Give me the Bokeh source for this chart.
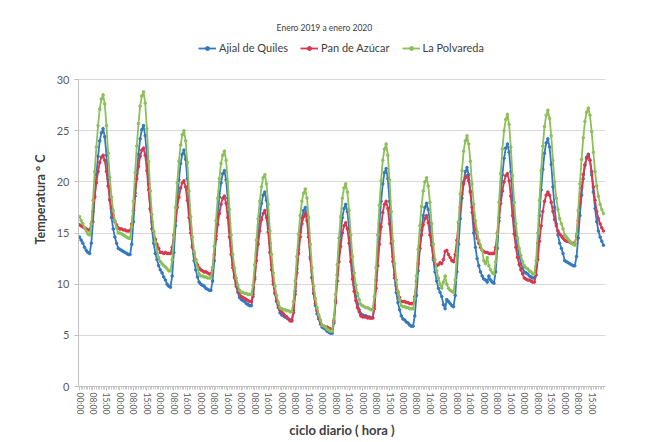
from bokeh.plotting import figure
from bokeh.models import Range1d, FixedTicker, Legend, LegendItem, Label
from bokeh.embed import file_html
from bokeh.resources import INLINE

# ---- data: one representative day (hourly 00..23) per month, Jan 2019 .. Jan 2020
ajial_days = [
    [14.6,14.3,14.0,13.6,13.3,13.1,13.0,14.0,16.1,18.5,20.7,22.5,24.0,24.8,25.2,24.4,22.6,20.3,18.2,16.5,15.4,14.6,14.0,13.5],
    [13.4,13.3,13.2,13.1,13.0,12.9,12.9,13.9,16.1,18.6,20.8,22.7,24.2,25.1,25.5,24.5,22.5,19.8,17.3,15.4,14.0,13.0,12.4,11.8],
    [11.4,11.1,10.7,10.4,10.0,9.8,9.7,10.8,13.1,15.7,18.1,20.2,21.8,22.7,23.1,22.2,20.3,17.7,15.4,13.6,12.3,11.4,10.7,10.2],
    [10.0,9.9,9.8,9.6,9.5,9.4,9.4,10.3,12.3,14.7,16.8,18.5,19.9,20.8,21.1,20.2,18.4,15.9,13.7,11.9,10.7,9.8,9.2,8.7],
    [8.5,8.4,8.3,8.1,8.0,7.9,7.9,8.8,10.7,12.9,14.9,16.6,17.9,18.7,19.0,18.2,16.4,14.0,11.9,10.3,9.1,8.3,7.7,7.2],
    [7.0,6.9,6.8,6.7,6.6,6.5,6.5,7.4,9.3,11.5,13.4,15.1,16.4,17.2,17.5,16.7,15.0,12.7,10.7,9.1,7.9,7.1,6.6,6.1],
    [5.8,5.7,5.6,5.4,5.3,5.2,5.2,6.2,8.4,10.9,13.1,15.0,16.5,17.4,17.8,17.1,15.5,13.3,11.4,9.9,8.8,8.1,7.5,7.1],
    [7.0,6.9,6.9,6.8,6.8,6.7,6.7,7.9,10.4,13.3,15.9,18.1,19.8,20.9,21.3,20.3,18.1,15.3,12.7,10.6,9.2,8.2,7.5,6.9],
    [6.6,6.5,6.3,6.2,6.0,5.9,5.9,6.9,8.9,11.3,13.5,15.3,16.7,17.5,17.9,17.3,15.9,14.1,12.4,11.2,10.3,9.6,9.2,8.8],
    [8.0,7.6,8.5,8.3,8.1,7.9,7.8,8.9,11.2,13.9,16.4,18.4,20.0,21.0,21.4,20.7,19.1,17.0,15.0,13.6,12.5,11.8,11.2,10.8],
    [10.5,10.4,10.2,10.8,10.4,10.2,10.1,11.2,13.5,16.2,18.7,20.7,22.3,23.3,23.7,22.9,21.0,18.6,16.4,14.8,13.5,12.7,12.1,11.6],
    [11.2,11.1,11.0,10.8,10.7,10.6,10.6,11.7,14.0,16.7,19.2,21.2,22.8,23.8,24.2,23.4,21.7,19.5,17.5,15.9,14.8,14.0,13.5,13.0],
    [12.3,12.2,12.1,12.0,11.9,11.8,11.8,12.7,14.5,16.7,18.7,20.3,21.6,22.4,22.7,22.1,20.7,19.0,17.4,16.1,15.2,14.6,14.2,13.8],
]
pan_days = [
    [15.8,15.7,15.6,15.5,15.4,15.3,15.3,15.9,17.1,18.6,19.9,21.0,21.9,22.4,22.6,22.1,21.0,19.6,18.3,17.4,16.6,16.1,15.8,15.5],
    [15.4,15.4,15.3,15.3,15.2,15.2,15.2,15.9,17.2,18.9,20.3,21.5,22.5,23.1,23.3,22.6,21.1,19.2,17.4,16.1,15.1,14.4,13.9,13.5],
    [13.1,13.1,13.0,13.1,13.0,13.0,13.0,13.6,14.8,16.2,17.5,18.5,19.4,19.9,20.1,19.5,18.2,16.5,15.0,13.8,13.0,12.4,11.9,11.6],
    [11.4,11.3,11.2,11.2,11.1,11.0,11.0,11.6,12.9,14.4,15.8,16.9,17.8,18.4,18.6,17.9,16.5,14.6,12.9,11.6,10.6,10.0,9.5,9.1],
    [8.8,8.7,8.6,8.5,8.4,8.3,8.3,9.0,10.5,12.3,13.9,15.2,16.3,16.9,17.2,16.5,15.1,13.1,11.4,10.0,9.1,8.4,7.9,7.5],
    [7.3,7.1,6.9,6.8,6.6,6.4,6.4,7.2,9.0,11.1,13.0,14.6,15.9,16.6,16.9,16.2,14.6,12.5,10.6,9.1,8.1,7.4,6.8,6.4],
    [6.0,5.9,5.8,5.8,5.7,5.6,5.6,6.4,8.2,10.3,12.2,13.7,15.0,15.7,16.0,15.4,14.0,12.2,10.5,9.3,8.4,7.7,7.3,6.9],
    [6.8,6.8,6.8,6.7,6.7,6.7,6.7,7.6,9.6,11.8,13.9,15.6,17.0,17.8,18.1,17.4,15.9,14.0,12.2,10.9,9.9,9.2,8.7,8.3],
    [8.3,8.3,8.2,8.2,8.1,8.1,8.1,8.8,10.3,12.0,13.5,14.8,15.8,16.4,16.7,16.0,14.8,13.8,12.6,12.0,11.8,11.9,12.1,12.0],
    [12.4,13.2,13.3,12.9,12.6,12.3,12.2,12.9,14.3,16.0,17.5,18.8,19.8,20.4,20.6,20.1,19.0,17.5,16.2,15.2,14.5,14.0,13.6,13.3],
    [13.2,13.1,13.1,13.0,13.0,13.0,13.0,13.6,15.0,16.5,17.9,19.1,20.0,20.6,20.8,20.1,18.6,16.7,14.9,13.6,12.6,11.9,11.4,11.0],
    [10.6,10.5,10.4,10.4,10.3,10.2,10.2,10.9,12.4,14.2,15.7,17.1,18.1,18.7,19.0,18.7,18.0,17.1,16.3,15.7,15.2,14.9,14.7,14.5],
    [14.3,14.2,14.2,14.1,14.0,14.0,14.0,14.7,16.2,17.9,19.4,20.7,21.7,22.3,22.6,22.1,21.0,19.5,18.2,17.1,16.4,15.9,15.5,15.2],
]
polvareda_days = [
    [16.6,16.2,15.9,15.5,15.2,14.9,14.8,15.9,18.2,21.0,23.4,25.5,27.1,28.1,28.5,27.6,25.5,22.8,20.4,18.5,17.2,16.2,15.5,15.0],
    [15.0,14.9,14.8,14.7,14.6,14.5,14.5,15.6,18.1,20.9,23.5,25.7,27.4,28.4,28.8,27.7,25.2,22.0,19.1,16.8,15.2,14.1,13.3,12.6],
    [12.2,12.0,11.8,11.7,11.5,11.3,11.3,12.4,14.7,17.5,19.9,22.0,23.6,24.6,25.0,24.0,21.9,19.1,16.6,14.6,13.2,12.3,11.6,11.0],
    [10.8,10.8,10.7,10.7,10.6,10.6,10.6,11.6,13.7,16.2,18.4,20.3,21.8,22.6,23.0,22.1,20.0,17.3,14.8,12.9,11.6,10.6,9.9,9.4],
    [9.2,9.2,9.1,9.1,9.0,9.0,9.0,9.9,11.9,14.3,16.4,18.1,19.5,20.4,20.7,19.8,17.8,15.2,12.9,11.1,9.8,8.9,8.2,7.7],
    [7.6,7.5,7.5,7.4,7.4,7.3,7.3,8.3,10.3,12.7,14.9,16.7,18.1,18.9,19.3,18.4,16.5,13.9,11.6,9.8,8.6,7.7,7.0,6.5],
    [6.0,5.9,5.8,5.6,5.5,5.4,5.4,6.6,9.0,11.9,14.5,16.6,18.4,19.4,19.8,19.0,17.2,14.8,12.7,11.1,9.9,9.1,8.5,8.0],
    [7.9,7.8,7.7,7.7,7.6,7.5,7.5,8.8,11.6,14.8,17.7,20.1,22.1,23.2,23.7,22.6,20.2,17.1,14.2,12.0,10.4,9.3,8.5,7.9],
    [7.8,7.8,7.7,7.7,7.6,7.6,7.6,8.6,10.8,13.4,15.7,17.6,19.1,20.0,20.4,19.6,18.0,15.9,13.9,12.4,11.3,10.6,10.0,9.6],
    [10.2,10.8,10.0,9.6,9.4,9.3,9.2,10.4,13.0,16.1,18.8,21.1,23.0,24.0,24.5,23.7,22.0,19.8,17.8,16.2,15.1,14.3,13.8,13.3],
    [12.3,12.0,12.6,11.8,11.4,11.1,11.0,12.2,14.9,18.0,20.8,23.2,25.0,26.1,26.6,25.6,23.4,20.6,18.0,15.9,14.5,13.5,12.8,12.2],
    [11.8,11.6,11.5,11.3,11.2,11.0,11.0,12.3,15.0,18.2,21.1,23.5,25.4,26.5,27.0,26.2,24.5,22.1,20.0,18.4,17.3,16.4,15.9,15.4],
    [14.8,14.6,14.4,14.2,14.0,13.9,13.8,14.9,17.2,19.8,22.2,24.3,25.9,26.8,27.2,26.5,24.9,22.9,21.0,19.6,18.6,17.8,17.3,16.9],
]

tick_labels = [
    "00:00", "08:00", "15:00", "00:00", "08:00", "15:00", "00:00", "08:00", "16:00",
    "00:00", "08:00", "16:00", "00:00", "08:00", "16:00", "00:00", "08:00", "16:00",
    "00:00", "08:00", "16:00", "00:00", "08:00", "15:00", "00:00", "08:00", "16:00",
    "00:00", "08:00", "16:00", "00:00", "08:00", "16:00", "00:00", "08:00", "15:00",
    "00:00", "08:00", "15:00",
]
y_ticks = [0, 5, 10, 15, 20, 25, 30]
chart_title = "Enero 2019 a  enero 2020"

names = ["Ajial de Quiles", "Pan de Azúcar", "La Polvareda"]
colors = ["#3479C0", "#D8384E", "#8CC058"]

series = [sum(d, []) for d in (ajial_days, pan_days, polvareda_days)]
n = len(series[0])
xs = list(range(n))
label_every = 8
tick_pos = list(range(0, n, label_every))

FONT = "Lato"

# frame: left 78, right 605, top 12, bottom 386 ; value 30 sits at y=79
p = figure(width=649, height=442, output_backend="svg", toolbar_location=None,
           title=None,
           x_range=Range1d(-0.6, 312.2), y_range=Range1d(0, 36.55),
           min_border_left=78, min_border_right=44, min_border_top=12,
           min_border_bottom=56)
p.outline_line_color = None
p.background_fill_color = "white"
p.border_fill_color = "white"

# axes
p.xaxis.ticker = FixedTicker(ticks=tick_pos, minor_ticks=xs)
p.xaxis.major_label_overrides = {t: lab for t, lab in zip(tick_pos, tick_labels)}
p.xaxis.major_label_orientation = "vertical"
p.xaxis.major_label_text_font = FONT
p.xaxis.major_label_text_font_size = "8.5px"
p.xaxis.major_label_text_color = "#595959"
p.xaxis.major_label_standoff = 2
p.xaxis.axis_line_color = "#BFBFBF"
p.xaxis.major_tick_line_color = "#BFBFBF"
p.xaxis.minor_tick_line_color = "#C8C8C8"
p.xaxis.major_tick_in = 0
p.xaxis.major_tick_out = 4
p.xaxis.minor_tick_in = 0
p.xaxis.minor_tick_out = 3
p.xaxis.axis_label = "ciclo diario ( hora )"
p.xaxis.axis_label_text_font = FONT
p.xaxis.axis_label_text_font_style = "bold"
p.xaxis.axis_label_text_font_size = "13px"
p.xaxis.axis_label_text_color = "#404040"
p.xaxis.axis_label_standoff = 5

p.yaxis.ticker = FixedTicker(ticks=y_ticks)
p.yaxis.bounds = (0, 30)
p.yaxis.major_label_text_font = FONT
p.yaxis.major_label_text_font_size = "11px"
p.yaxis.major_label_text_color = "#595959"
p.yaxis.axis_line_color = "#BFBFBF"
p.yaxis.major_tick_line_color = "#BFBFBF"
p.yaxis.major_tick_in = 0
p.yaxis.major_tick_out = 4
p.yaxis.minor_tick_line_color = None
p.yaxis.axis_label = "Temperatura ° C"
p.yaxis.axis_label_text_font = FONT
p.yaxis.axis_label_text_font_style = "bold"
p.yaxis.axis_label_text_font_size = "12.5px"
p.yaxis.axis_label_text_color = "#404040"
p.yaxis.axis_label_standoff = 6

p.xgrid.grid_line_color = None
p.ygrid.grid_line_color = "#D9D9D9"
p.ygrid.grid_line_width = 1

items = []
for name, col, ys in zip(names, colors, series):
    ln = p.line(xs, ys, line_color=col, line_width=1.8)
    sc = p.scatter(xs, ys, marker="circle", size=2.6, fill_color=col, line_color=col)
    items.append(LegendItem(label=name, renderers=[ln, sc]))

# legend and title drawn in the (empty) top band of the frame, in screen px from frame bottom-left
legend = Legend(items=items, orientation="horizontal", location=(120, 332),
                label_text_font=FONT, label_text_font_size="11px",
                label_text_color="#404040", glyph_width=18, glyph_height=10,
                spacing=12, padding=0, margin=0, label_standoff=3,
                border_line_color=None, background_fill_alpha=0)
p.add_layout(legend, "center")

p.add_layout(Label(x=247, y=359, x_units="screen", y_units="screen",
                   text=chart_title, text_align="center", text_baseline="middle",
                   text_font=FONT, text_font_size="8.5px", text_color="#404040"))

open("out.html", "w").write(file_html(p, INLINE))
